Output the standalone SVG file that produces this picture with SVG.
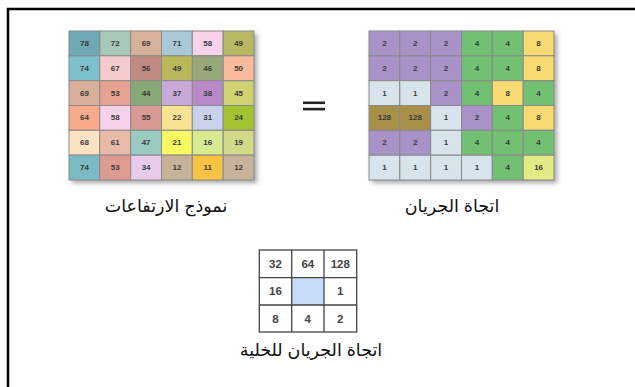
<svg xmlns="http://www.w3.org/2000/svg" width="635" height="387" viewBox="0 0 635 387">
<defs>
<filter id="sh" x="-10%" y="-10%" width="125%" height="125%">
<feDropShadow dx="3" dy="3" stdDeviation="2.5" flood-color="#000" flood-opacity="0.35"/>
</filter>
</defs>
<style>
.c{stroke:#8a8a8a;stroke-width:1}
.n{font-family:"Liberation Sans",Arial,sans-serif;font-size:8px;font-weight:bold;fill:#3a3a3a;text-anchor:middle;dominant-baseline:central}
.m{font-family:"Liberation Sans",Arial,sans-serif;font-size:11.5px;font-weight:bold;fill:#444;text-anchor:middle;dominant-baseline:central}
.lb{font-family:"Liberation Sans","DejaVu Sans",sans-serif;font-size:17.5px;fill:#111;text-anchor:middle}
.g{fill:none;stroke:#444;stroke-width:1.3}
</style>
<rect width="635" height="387" fill="#fff"/>
<path d="M8,387 V9 H635" fill="none" stroke="#000" stroke-width="2.5"/>

<g id="elevation-grid">
<rect x="69" y="31" width="185" height="149" fill="#888" filter="url(#sh)"/>
<g class="c">
<rect x="69" y="31" width="30.8" height="24.8" fill="#6fa9b5"/>
<rect x="99.8" y="31" width="30.8" height="24.8" fill="#a9c8bc"/>
<rect x="130.7" y="31" width="30.8" height="24.8" fill="#d9b09a"/>
<rect x="161.5" y="31" width="30.8" height="24.8" fill="#a9c8d8"/>
<rect x="192.3" y="31" width="30.8" height="24.8" fill="#f8d2ea"/>
<rect x="223.2" y="31" width="30.8" height="24.8" fill="#b8b862"/>

<rect x="69" y="55.8" width="30.8" height="24.8" fill="#7cc0cc"/>
<rect x="99.8" y="55.8" width="30.8" height="24.8" fill="#f5caca"/>
<rect x="130.7" y="55.8" width="30.8" height="24.8" fill="#c08a82"/>
<rect x="161.5" y="55.8" width="30.8" height="24.8" fill="#b8b85a"/>
<rect x="192.3" y="55.8" width="30.8" height="24.8" fill="#98a878"/>
<rect x="223.2" y="55.8" width="30.8" height="24.8" fill="#f8ba9a"/>

<rect x="69" y="80.7" width="30.8" height="24.8" fill="#d8b09a"/>
<rect x="99.8" y="80.7" width="30.8" height="24.8" fill="#e8a292"/>
<rect x="130.7" y="80.7" width="30.8" height="24.8" fill="#88a878"/>
<rect x="161.5" y="80.7" width="30.8" height="24.8" fill="#c8aad8"/>
<rect x="192.3" y="80.7" width="30.8" height="24.8" fill="#b88ac8"/>
<rect x="223.2" y="80.7" width="30.8" height="24.8" fill="#d0d272"/>

<rect x="69" y="105.5" width="30.8" height="24.8" fill="#f8aa8a"/>
<rect x="99.8" y="105.5" width="30.8" height="24.8" fill="#f8d2ea"/>
<rect x="130.7" y="105.5" width="30.8" height="24.8" fill="#d89a92"/>
<rect x="161.5" y="105.5" width="30.8" height="24.8" fill="#f8e294"/>
<rect x="192.3" y="105.5" width="30.8" height="24.8" fill="#c8d2ea"/>
<rect x="223.2" y="105.5" width="30.8" height="24.8" fill="#a2c232"/>

<rect x="69" y="130.3" width="30.8" height="24.8" fill="#fce2c2"/>
<rect x="99.8" y="130.3" width="30.8" height="24.8" fill="#e8baaa"/>
<rect x="130.7" y="130.3" width="30.8" height="24.8" fill="#9acac2"/>
<rect x="161.5" y="130.3" width="30.8" height="24.8" fill="#f8f862"/>
<rect x="192.3" y="130.3" width="30.8" height="24.8" fill="#daea92"/>
<rect x="223.2" y="130.3" width="30.8" height="24.8" fill="#d2da8a"/>

<rect x="69" y="155.2" width="30.8" height="24.8" fill="#7abac2"/>
<rect x="99.8" y="155.2" width="30.8" height="24.8" fill="#e09a92"/>
<rect x="130.7" y="155.2" width="30.8" height="24.8" fill="#eacaea"/>
<rect x="161.5" y="155.2" width="30.8" height="24.8" fill="#c8b29a"/>
<rect x="192.3" y="155.2" width="30.8" height="24.8" fill="#f8c242"/>
<rect x="223.2" y="155.2" width="30.8" height="24.8" fill="#c8b29a"/>
</g>
<g class="n">
<text x="84.4" y="43.4">78</text><text x="115.2" y="43.4">72</text><text x="146.1" y="43.4">69</text><text x="176.9" y="43.4">71</text><text x="207.7" y="43.4">58</text><text x="238.6" y="43.4">49</text>
<text x="84.4" y="68.2">74</text><text x="115.2" y="68.2">67</text><text x="146.1" y="68.2">56</text><text x="176.9" y="68.2">49</text><text x="207.7" y="68.2">46</text><text x="238.6" y="68.2">50</text>
<text x="84.4" y="93.1">69</text><text x="115.2" y="93.1">53</text><text x="146.1" y="93.1">44</text><text x="176.9" y="93.1">37</text><text x="207.7" y="93.1">38</text><text x="238.6" y="93.1">45</text>
<text x="84.4" y="117.9">64</text><text x="115.2" y="117.9">58</text><text x="146.1" y="117.9">55</text><text x="176.9" y="117.9">22</text><text x="207.7" y="117.9">31</text><text x="238.6" y="117.9">24</text>
<text x="84.4" y="142.7">68</text><text x="115.2" y="142.7">61</text><text x="146.1" y="142.7">47</text><text x="176.9" y="142.7">21</text><text x="207.7" y="142.7">16</text><text x="238.6" y="142.7">19</text>
<text x="84.4" y="167.6">74</text><text x="115.2" y="167.6">53</text><text x="146.1" y="167.6">34</text><text x="176.9" y="167.6">12</text><text x="207.7" y="167.6">11</text><text x="238.6" y="167.6">12</text>
</g>
<text class="lb" x="166" y="212">نموذج الارتفاعات</text>
</g>

<g id="equals">
<rect x="303" y="101.5" width="22" height="2.6" fill="#222"/>
<rect x="303" y="107.8" width="22" height="2.6" fill="#222"/>
</g>

<g id="flow-direction-grid">
<rect x="369" y="31" width="185" height="149" fill="#888" filter="url(#sh)"/>
<g class="c">
<rect x="369" y="31" width="30.8" height="24.8" fill="#a892c8"/>
<rect x="399.8" y="31" width="30.8" height="24.8" fill="#a892c8"/>
<rect x="430.7" y="31" width="30.8" height="24.8" fill="#a892c8"/>
<rect x="461.5" y="31" width="30.8" height="24.8" fill="#72c072"/>
<rect x="492.3" y="31" width="30.8" height="24.8" fill="#72c072"/>
<rect x="523.2" y="31" width="30.8" height="24.8" fill="#f8da72"/>

<rect x="369" y="55.8" width="30.8" height="24.8" fill="#a892c8"/>
<rect x="399.8" y="55.8" width="30.8" height="24.8" fill="#a892c8"/>
<rect x="430.7" y="55.8" width="30.8" height="24.8" fill="#a892c8"/>
<rect x="461.5" y="55.8" width="30.8" height="24.8" fill="#72c072"/>
<rect x="492.3" y="55.8" width="30.8" height="24.8" fill="#72c072"/>
<rect x="523.2" y="55.8" width="30.8" height="24.8" fill="#f8da72"/>

<rect x="369" y="80.7" width="30.8" height="24.8" fill="#d8e4ec"/>
<rect x="399.8" y="80.7" width="30.8" height="24.8" fill="#d8e4ec"/>
<rect x="430.7" y="80.7" width="30.8" height="24.8" fill="#a892c8"/>
<rect x="461.5" y="80.7" width="30.8" height="24.8" fill="#72c072"/>
<rect x="492.3" y="80.7" width="30.8" height="24.8" fill="#f8da72"/>
<rect x="523.2" y="80.7" width="30.8" height="24.8" fill="#72c072"/>

<rect x="369" y="105.5" width="30.8" height="24.8" fill="#a89048"/>
<rect x="399.8" y="105.5" width="30.8" height="24.8" fill="#a89048"/>
<rect x="430.7" y="105.5" width="30.8" height="24.8" fill="#d8e4ec"/>
<rect x="461.5" y="105.5" width="30.8" height="24.8" fill="#a892c8"/>
<rect x="492.3" y="105.5" width="30.8" height="24.8" fill="#72c072"/>
<rect x="523.2" y="105.5" width="30.8" height="24.8" fill="#f8da72"/>

<rect x="369" y="130.3" width="30.8" height="24.8" fill="#a892c8"/>
<rect x="399.8" y="130.3" width="30.8" height="24.8" fill="#a892c8"/>
<rect x="430.7" y="130.3" width="30.8" height="24.8" fill="#d8e4ec"/>
<rect x="461.5" y="130.3" width="30.8" height="24.8" fill="#72c072"/>
<rect x="492.3" y="130.3" width="30.8" height="24.8" fill="#72c072"/>
<rect x="523.2" y="130.3" width="30.8" height="24.8" fill="#72c072"/>

<rect x="369" y="155.2" width="30.8" height="24.8" fill="#d8e4ec"/>
<rect x="399.8" y="155.2" width="30.8" height="24.8" fill="#d8e4ec"/>
<rect x="430.7" y="155.2" width="30.8" height="24.8" fill="#d8e4ec"/>
<rect x="461.5" y="155.2" width="30.8" height="24.8" fill="#d8e4ec"/>
<rect x="492.3" y="155.2" width="30.8" height="24.8" fill="#72c072"/>
<rect x="523.2" y="155.2" width="30.8" height="24.8" fill="#e2ea84"/>
</g>
<g class="n">
<text x="384.4" y="43.4">2</text><text x="415.2" y="43.4">2</text><text x="446.1" y="43.4">2</text><text x="476.9" y="43.4">4</text><text x="507.7" y="43.4">4</text><text x="538.6" y="43.4">8</text>
<text x="384.4" y="68.2">2</text><text x="415.2" y="68.2">2</text><text x="446.1" y="68.2">2</text><text x="476.9" y="68.2">4</text><text x="507.7" y="68.2">4</text><text x="538.6" y="68.2">8</text>
<text x="384.4" y="93.1">1</text><text x="415.2" y="93.1">1</text><text x="446.1" y="93.1">2</text><text x="476.9" y="93.1">4</text><text x="507.7" y="93.1">8</text><text x="538.6" y="93.1">4</text>
<text x="384.4" y="117.9">128</text><text x="415.2" y="117.9">128</text><text x="446.1" y="117.9">1</text><text x="476.9" y="117.9">2</text><text x="507.7" y="117.9">4</text><text x="538.6" y="117.9">8</text>
<text x="384.4" y="142.7">2</text><text x="415.2" y="142.7">2</text><text x="446.1" y="142.7">1</text><text x="476.9" y="142.7">4</text><text x="507.7" y="142.7">4</text><text x="538.6" y="142.7">4</text>
<text x="384.4" y="167.6">1</text><text x="415.2" y="167.6">1</text><text x="446.1" y="167.6">1</text><text x="476.9" y="167.6">1</text><text x="507.7" y="167.6">4</text><text x="538.6" y="167.6">16</text>
</g>
<text class="lb" x="452" y="212">اتجاة الجريان</text>
</g>

<g id="cell-direction-key">
<rect x="291.7" y="277.7" width="32.3" height="27.3" fill="#c6dcf8"/>
<rect class="g" x="259.3" y="250" width="97.4" height="82"/>
<path class="g" d="M291.7,250 V332 M324,250 V332 M259.3,277.7 H356.7 M259.3,305 H356.7"/>
<g class="m">
<text x="275.5" y="264">32</text><text x="307.8" y="264">64</text><text x="340.3" y="264">128</text>
<text x="275.5" y="291.3">16</text><text x="340.3" y="291.3">1</text>
<text x="275.5" y="318.6">8</text><text x="307.8" y="318.6">4</text><text x="340.3" y="318.6">2</text>
</g>
<text class="lb" x="311" y="356">اتجاة الجريان للخلية</text>
</g>
</svg>
